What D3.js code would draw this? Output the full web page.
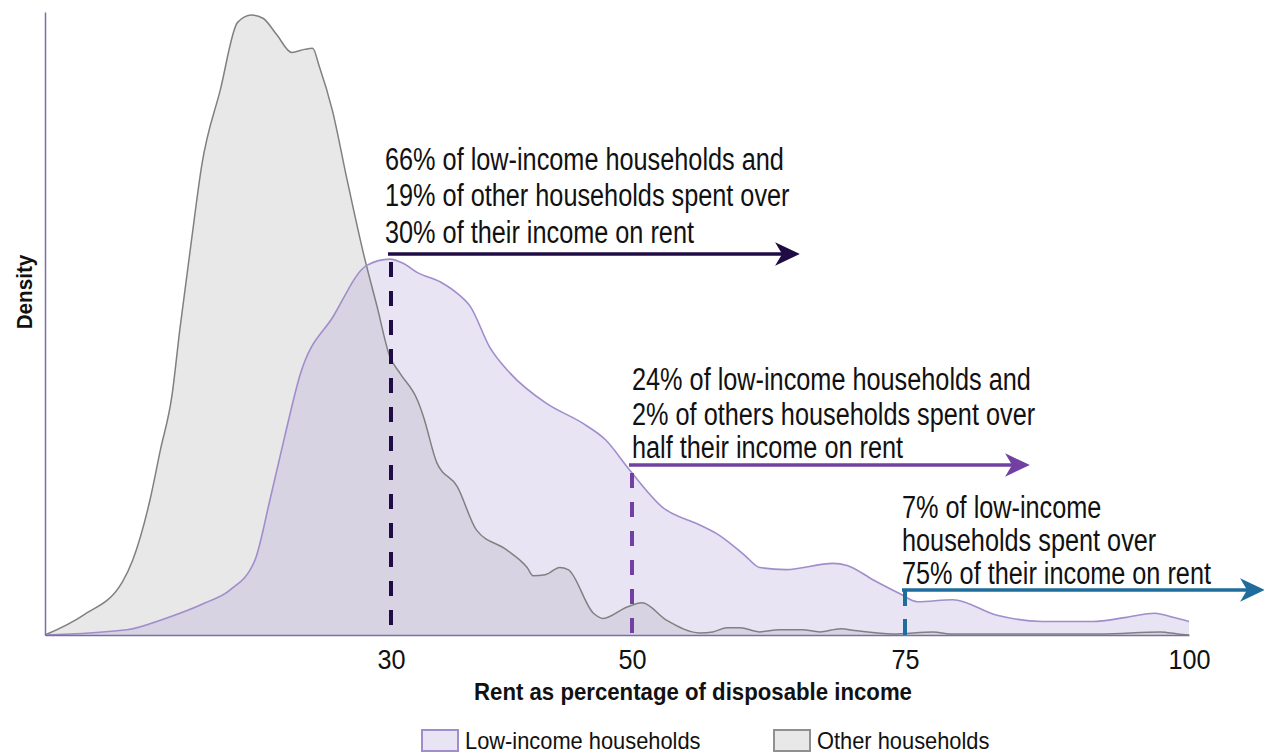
<!DOCTYPE html>
<html>
<head>
<meta charset="utf-8">
<script src="https://cdn.jsdelivr.net/npm/d3@7"></script>
<style>
  html, body { margin: 0; padding: 0; background: #ffffff; }
  svg { display: block; }
  text { font-family: "Liberation Sans Narrow", "Arial Narrow", "Liberation Sans", Arial, sans-serif; fill: #111; }
</style>
</head>
<body>
<svg id="chart" width="1264" height="753"></svg>
<script>
// ---------- data ----------
// Rent as % of disposable income (x) and density (arbitrary units)
const otherX = [0, 3.3, 6.7, 7.6, 9.1, 10.0, 11.0, 11.7, 12.7, 13.6, 15.2, 16.7, 17.9, 18.9, 20.1, 21.4, 22.5, 23.2, 23.8, 24.9, 26.2, 27.6, 28.8, 29.9, 30.75, 32.2, 32.7, 33.8, 35.5, 37.1, 39.6, 41.3, 41.8, 42.8, 44.0, 44.7, 46.8, 47.6, 49.6, 50.9, 53.2, 56.2, 57.4, 58.7, 59.9, 61.7, 63.5, 65.6, 67.2, 69.1, 70.6, 73.9, 77.5, 79.0, 83.4, 92.2, 97.5, 99.0, 100];
const otherY = [0, 0.19, 0.51, 0.72, 1.30, 1.78, 2.30, 2.95, 3.80, 4.53, 5.25, 5.90, 5.97, 5.94, 5.78, 5.61, 5.64, 5.65, 5.47, 5.06, 4.38, 3.68, 3.16, 2.68, 2.52, 2.26, 2.10, 1.66, 1.43, 1.01, 0.82, 0.65, 0.57, 0.58, 0.65, 0.63, 0.21, 0.16, 0.27, 0.31, 0.14, 0.02, 0.03, 0.07, 0.07, 0.03, 0.05, 0.05, 0.03, 0.06, 0.04, 0.01, 0.03, 0.01, 0.01, 0.01, 0.03, 0.01, 0];

const lowX = [0, 7.1, 10.2, 13.9, 16.0, 18.2, 19.5, 20.8, 22.1, 25.0, 27.9, 29.9, 31.0, 32.2, 34.1, 35.5, 36.6, 38.2, 39.9, 42.9, 45.9, 47.8, 49.8, 52.8, 56.2, 58.0, 60.3, 61.7, 64.1, 68.4, 69.7, 72.1, 74.5, 76.1, 79.2, 83.1, 87.1, 91.5, 94.5, 97.0, 98.6, 100];
const lowY = [0, 0.05, 0.15, 0.31, 0.43, 0.72, 1.30, 1.92, 2.50, 3.07, 3.56, 3.62, 3.58, 3.49, 3.40, 3.29, 3.16, 2.77, 2.52, 2.23, 2.04, 1.88, 1.59, 1.23, 1.06, 0.96, 0.77, 0.65, 0.63, 0.69, 0.67, 0.53, 0.40, 0.32, 0.34, 0.19, 0.13, 0.13, 0.17, 0.21, 0.17, 0.13];

const tickValues = [30, 50, 75, 100];
const thresholds = [30, 50, 75];
const annotations = [
  ["66% of low-income households and", "19% of other households spent over", "30% of their income on rent"],
  ["24% of low-income households and", "2% of others households spent over", "half their income on rent"],
  ["7% of low-income", "households spent over", "75% of their income on rent"]
];
const seriesNames = ["Low-income households", "Other households"];
const xTitle = "Rent as percentage of disposable income";
const yTitle = "Density";

// ---------- styles ----------
const C = {
  lowFill: "rgba(166,151,209,0.26)", lowStroke: "#a18dcb",
  otherFill: "#e8e8e8", otherStroke: "#808080",
  axis: "#7d6fa6",
  thr: ["#1f0c45", "#7140a2", "#1f6d9c"]
};

const svg = d3.select("#chart");

// condense a text horizontally (narrow-font look)
function squeeze(sel, ratio) {
  sel.each(function() {
    const w = this.getComputedTextLength();
    d3.select(this).attr("textLength", w * ratio).attr("lengthAdjust", "spacingAndGlyphs");
  });
}

const x = d3.scaleLinear().domain([0, 30, 50, 75, 100]).range([45, 391, 632, 905, 1189]);
const y = d3.scaleLinear().domain([0, 6]).range([635, 12]);

const other = otherX.map((v, i) => ({x: v, y: otherY[i]}));
const low = lowX.map((v, i) => ({x: v, y: lowY[i]}));

const area = d3.area().x(d => x(d.x)).y0(y(0)).y1(d => y(d.y)).curve(d3.curveMonotoneX);
const line = d3.line().x(d => x(d.x)).y(d => y(d.y)).curve(d3.curveMonotoneX);

svg.append("path").datum(other).attr("d", area).attr("fill", C.otherFill);
svg.append("path").datum(low).attr("d", area).attr("fill", C.lowFill);
svg.append("path").datum(other).attr("d", line).attr("fill", "none").attr("stroke", C.otherStroke).attr("stroke-width", 1.5);
svg.append("path").datum(low).attr("d", line).attr("fill", "none").attr("stroke", C.lowStroke).attr("stroke-width", 1.6);

// axes
const xAxis = svg.append("g").attr("transform", `translate(0,${y(0)})`)
  .call(d3.axisBottom(x).tickValues(tickValues).tickSize(0).tickPadding(14).tickFormat(d3.format("d")));
xAxis.select(".domain").attr("stroke", C.axis).attr("stroke-width", 1.5);
xAxis.selectAll("text").style("font-size", "28px").attr("fill", "#111")
  .style("font-family", '"Liberation Sans Narrow", "Arial Narrow", "Liberation Sans", Arial, sans-serif')
  .call(squeeze, 0.9);

const yAxis = svg.append("g").attr("transform", `translate(${x(0)},0)`)
  .call(d3.axisLeft(y).tickValues([]).tickSize(0));
yAxis.select(".domain").attr("stroke", C.axis).attr("stroke-width", 1.5);

// axis titles
svg.append("text").attr("x", 693).attr("y", 700).attr("text-anchor", "middle")
  .style("font-size", "24px").style("font-weight", "bold").text(xTitle).call(squeeze, 0.925);
svg.append("text").attr("transform", "translate(32,292) rotate(-90)").attr("text-anchor", "middle")
  .style("font-size", "22px").style("font-weight", "bold").text(yTitle).call(squeeze, 0.94);

// thresholds: dashed lines + arrows + annotations
const arrowY = [254, 465, 590];
const arrowTipX = [798, 1028, 1263];
const textBase = [[170, 206, 243], [390, 425, 458], [518, 551, 584]];
const textX = [385, 632, 902];

thresholds.forEach((t, i) => {
  const col = C.thr[i];
  const xs = x(t);
  svg.append("line").attr("x1", xs).attr("x2", xs)
    .attr("y1", i === 2 ? arrowY[i] : arrowY[i] + 8).attr("y2", y(0))
    .attr("stroke", col).attr("stroke-width", 4)
    .attr("stroke-dasharray", i === 2 ? "16,13" : "15,14");
  const x0 = xs - 3, x1 = arrowTipX[i];
  svg.append("line").attr("x1", x0).attr("x2", x1 - 8).attr("y1", arrowY[i]).attr("y2", arrowY[i])
    .attr("stroke", col).attr("stroke-width", 3.5);
  svg.append("path")
    .attr("d", `M${x1},${arrowY[i]} L${x1 - 21},${arrowY[i] - 10} L${x1 - 15},${arrowY[i]} L${x1 - 21},${arrowY[i] + 10} Z`)
    .attr("fill", col).attr("stroke", col).attr("stroke-width", 1.5);
  annotations[i].forEach((s, j) => {
    svg.append("text").attr("x", textX[i]).attr("y", textBase[i][j])
      .style("font-size", "31px").text(s).call(squeeze, 0.815);
  });
});

// legend
const legend = [
  {name: seriesNames[0], fill: "#e8e4f3", stroke: "#a18dcb", x: 422},
  {name: seriesNames[1], fill: "#e8e8e8", stroke: "#909090", x: 774}
];
legend.forEach(l => {
  svg.append("rect").attr("x", l.x).attr("y", 730).attr("width", 36).attr("height", 21)
    .attr("fill", l.fill).attr("stroke", l.stroke).attr("stroke-width", 2);
  svg.append("text").attr("x", l.x + 43).attr("y", 749).style("font-size", "24px").text(l.name).call(squeeze, 0.91);
});
</script>
</body>
</html>
